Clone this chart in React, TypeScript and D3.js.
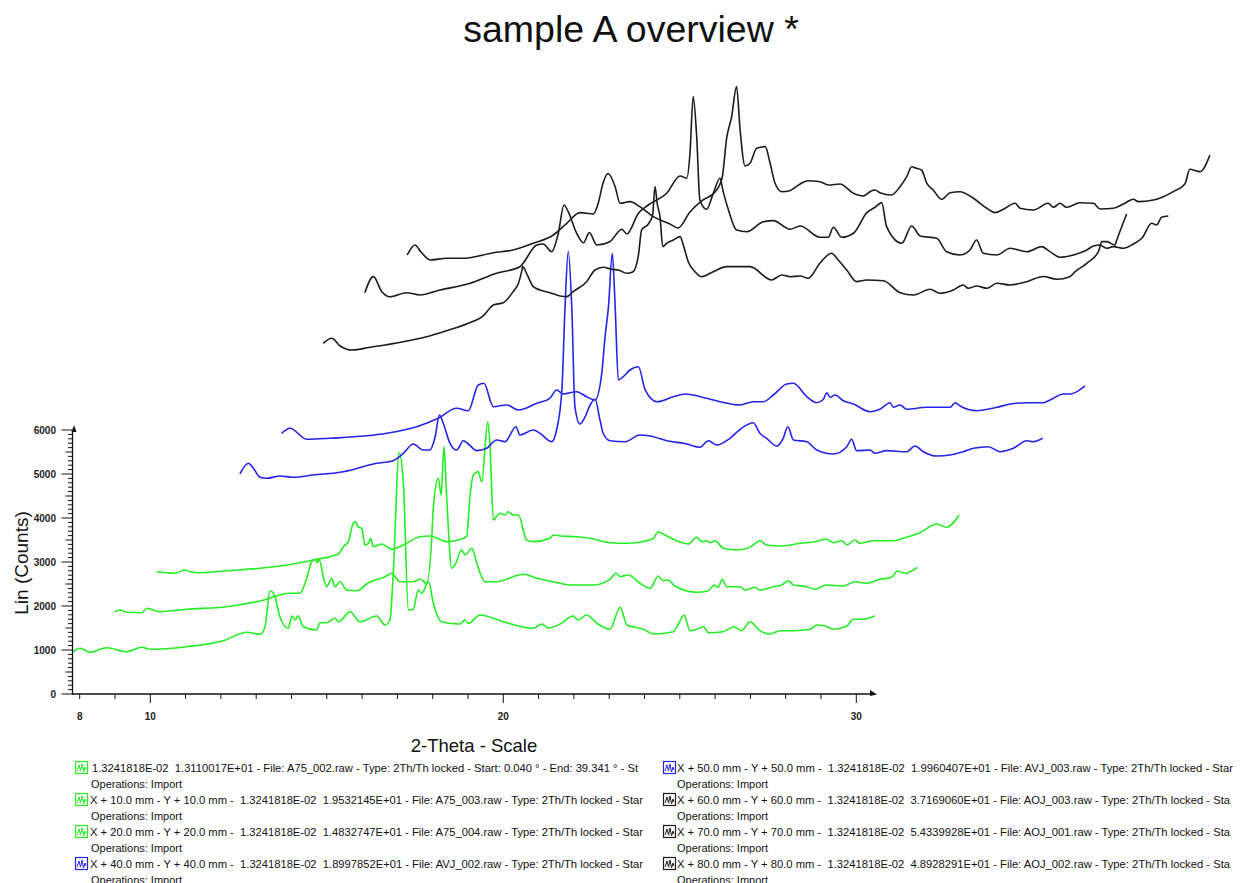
import React from 'react';
import * as d3 from 'd3';

type Pt = [number, number];

// 2-Theta (deg), Lin (Counts)
const scanA75_002: Pt[] = [[7.79,948],[8.01,1039],[8.29,948],[8.76,1052],[9.33,961],[9.76,1061],[9.99,1016],[11.03,1075],[12.07,1211],[12.73,1402],[13.11,1357],[13.25,1530],[13.39,2348],[13.53,2212],[13.67,1757],[13.91,1493],[14.01,1773],[14.10,1682],[14.19,1773],[14.33,1530],[14.71,1455],[14.81,1621],[15.00,1621],[15.23,1721],[15.33,1643],[15.66,1871],[15.94,1643],[16.41,1773],[16.65,1568],[16.79,1682],[16.88,2705],[17.05,5485],[17.17,4789],[17.31,1909],[17.45,1925],[17.59,2364],[17.69,2289],[17.88,2553],[18.02,2062],[18.25,1643],[18.77,1591],[18.91,1682],[19.01,1607],[19.34,1796],[20.00,1643],[20.85,1493],[21.09,1591],[21.27,1500],[21.61,1591],[21.98,1773],[22.12,1682],[22.36,1796],[22.65,1607],[23.02,1471],[23.31,1971],[23.50,1568],[23.97,1471],[24.25,1364],[24.82,1416],[24.96,1591],[25.12,1796],[25.29,1439],[25.48,1471],[25.67,1530],[25.81,1393],[26.23,1416],[26.52,1530],[26.75,1439],[26.99,1643],[27.27,1439],[27.56,1364],[27.84,1439],[28.22,1439],[28.69,1471],[28.88,1568],[29.12,1546],[29.35,1471],[29.73,1546],[29.92,1698],[30.15,1698],[30.53,1773]];

const scanA75_003: Pt[] = [[7.79,916],[7.95,955],[8.14,902],[8.57,893],[8.71,993],[9.08,916],[9.84,971],[10.97,1030],[11.92,1159],[12.77,1334],[13.05,1334],[13.24,1675],[13.38,2053],[13.48,2107],[13.54,2030],[13.60,2091],[13.71,1712],[13.81,1484],[13.95,1675],[14.04,1484],[14.18,1598],[14.37,1409],[14.66,1393],[14.99,1575],[15.46,1712],[15.65,1789],[15.88,1598],[16.26,1598],[16.45,1652],[16.64,1562],[16.78,2546],[16.83,3303],[16.97,3948],[17.05,3569],[17.13,4667],[17.21,3455],[17.35,1902],[17.44,1978],[17.63,2318],[17.73,2205],[17.92,2357],[18.06,2016],[18.29,1598],[18.62,1598],[19.38,1766],[19.76,1675],[20.42,1562],[20.70,1523],[21.36,1523],[21.83,1652],[22.00,1789],[22.12,1712],[22.35,1750],[22.68,1562],[22.97,1448],[23.20,1727],[23.34,1621],[23.48,1637],[23.67,1500],[24.29,1357],[24.62,1393],[24.78,1523],[24.90,1471],[25.01,1652],[25.14,1484],[25.52,1484],[25.66,1409],[25.94,1471],[26.08,1409],[26.46,1484],[26.70,1523],[26.88,1621],[27.03,1523],[27.41,1484],[27.64,1425],[27.97,1523],[28.44,1500],[28.77,1598],[29.10,1562],[29.48,1652],[29.81,1698],[29.97,1841],[30.19,1789],[30.54,1925]];

const scanA75_004: Pt[] = [[7.80,871],[8.08,848],[8.32,834],[8.60,909],[8.75,871],[9.03,848],[9.78,893],[10.73,948],[11.67,1046],[12.24,1137],[12.95,1273],[13.09,1439],[13.23,1553],[13.37,1971],[13.44,2007],[13.50,1893],[13.61,1857],[13.70,1477],[13.80,1516],[13.86,1630],[13.94,1439],[14.18,1500],[14.46,1380],[14.79,1477],[15.26,1666],[15.54,1682],[16.02,1553],[16.35,1591],[16.58,1666],[16.68,2614],[16.77,3069],[16.91,3144],[17.01,2916],[17.18,4280],[17.24,3789],[17.34,2046],[17.43,2121],[17.53,2198],[17.67,2159],[17.76,2234],[17.90,2159],[18.05,2159],[18.28,1591],[18.47,1553],[18.94,1630],[19.04,1705],[19.23,1682],[19.70,1666],[20.08,1630],[20.64,1530],[21.12,1516],[21.68,1575],[21.87,1630],[22.01,1780],[22.20,1705],[22.53,1575],[22.86,1500],[23.10,1652],[23.24,1553],[23.38,1575],[23.48,1530],[23.62,1575],[23.85,1402],[24.23,1364],[24.52,1402],[24.66,1455],[24.89,1575],[25.08,1477],[25.46,1455],[26.03,1516],[26.45,1553],[26.78,1607],[26.97,1530],[27.21,1575],[27.35,1477],[27.58,1591],[27.72,1516],[28.10,1575],[28.67,1575],[28.95,1630],[29.42,1757],[29.90,1955],[30.18,1880],[30.53,2159]];

const scanAVJ_002: Pt[] = [[7.78,1182],[8.02,1425],[8.16,1312],[8.35,1107],[8.54,1084],[8.92,1137],[9.29,1107],[9.86,1159],[10.71,1234],[11.65,1425],[12.12,1484],[12.41,1652],[12.69,1864],[12.97,1727],[13.16,1727],[13.31,2030],[13.43,2523],[13.54,2334],[13.73,1880],[13.92,1727],[14.11,1939],[14.25,1864],[14.49,1712],[14.77,1766],[15.05,1955],[15.29,1916],[15.60,2257],[15.71,2068],[16.09,2182],[16.28,2107],[16.61,1916],[16.75,2182],[16.90,3091],[16.99,4985],[17.08,6235],[17.18,4985],[17.27,2712],[17.41,2318],[17.56,2484],[17.70,2750],[17.84,2880],[17.98,2409],[18.07,2107],[18.26,1939],[18.69,1916],[19.11,2068],[19.40,2046],[19.87,1939],[20.44,1864],[20.81,1789],[21.05,1939],[21.29,1841],[21.66,1993],[21.95,2198],[22.32,2348],[22.51,2107],[22.70,1993],[22.99,1818],[23.17,1993],[23.30,2257],[23.46,1955],[23.84,1916],[24.12,1727],[24.59,1637],[24.97,1802],[25.11,1971],[25.25,1712],[25.63,1727],[25.77,1652],[26.10,1712],[26.67,1689],[26.90,1818],[27.14,1689],[27.52,1591],[27.90,1614],[28.27,1689],[28.56,1766],[28.98,1802],[29.31,1689],[29.69,1766],[30.07,1939],[30.26,1916],[30.52,1993]];

const scanAVJ_003: Pt[] = [[7.77,1152],[8.01,1266],[8.48,1016],[9.14,1039],[10.75,1152],[11.60,1302],[12.21,1493],[12.73,1721],[13.06,1666],[13.34,2250],[13.50,2289],[13.77,1757],[14.15,1796],[14.48,1682],[15.00,1834],[15.37,1948],[15.56,2137],[15.75,2046],[16.13,2098],[16.41,1984],[16.65,1909],[16.84,2516],[16.93,3312],[17.03,4030],[17.14,5244],[17.22,4030],[17.31,2364],[17.45,2439],[17.64,2591],[17.88,2666],[18.07,2137],[18.40,1871],[18.87,1984],[19.20,2046],[19.43,2023],[19.81,1948],[20.19,1871],[20.76,1796],[21.13,1871],[21.42,1871],[21.70,2023],[22.08,2273],[22.27,2289],[22.65,1984],[22.93,1848],[23.12,1925],[23.21,2075],[23.31,1971],[23.45,2023],[23.68,1893],[23.97,1818],[24.44,1643],[24.72,1698],[25.01,1848],[25.10,1743],[25.29,1796],[25.48,1698],[26.05,1743],[26.71,1743],[26.85,1848],[26.99,1773],[27.46,1666],[28.03,1743],[28.41,1818],[28.88,1848],[29.35,1848],[29.54,1909],[29.92,2046],[30.11,2046],[30.35,2121],[30.53,2228]];

const scanAOJ_003: Pt[] = [[7.76,2243],[8.00,2357],[8.24,2182],[8.57,2091],[9.08,2153],[10.03,2280],[10.69,2393],[11.26,2530],[11.82,2682],[12.29,2864],[12.58,3114],[12.86,3166],[13.14,3416],[13.29,3607],[13.38,3871],[13.41,3985],[13.52,3834],[13.71,3530],[13.90,3455],[14.18,3394],[14.47,3319],[14.66,3303],[14.84,3416],[15.22,3644],[15.46,3910],[15.69,3971],[15.93,3925],[16.12,3910],[16.36,3834],[16.54,3871],[16.69,4251],[16.78,4819],[16.97,4955],[17.09,5160],[17.16,5803],[17.22,5426],[17.30,5121],[17.38,4439],[17.49,4517],[17.68,4591],[17.87,4667],[17.96,4478],[18.10,4098],[18.29,3871],[18.48,3757],[18.81,3871],[19.19,3985],[19.57,3985],[19.85,3985],[20.46,3682],[20.75,3796],[20.98,3757],[21.27,3773],[21.50,3721],[21.83,4062],[22.16,4289],[22.35,4137],[22.59,3910],[22.87,3644],[23.16,3682],[23.63,3666],[24.10,3394],[24.48,3341],[24.95,3471],[25.23,3380],[25.61,3455],[25.89,3569],[26.03,3494],[26.27,3546],[26.56,3494],[26.84,3607],[27.22,3569],[27.69,3644],[28.16,3762],[28.54,3698],[28.91,3757],[29.06,3871],[29.39,4062],[29.72,4326],[29.82,4553],[29.96,4553],[30.19,4478],[30.24,4591],[30.52,5182]];

const scanAOJ_001: Pt[] = [[7.75,2439],[7.99,2803],[8.23,2462],[8.46,2348],[8.93,2439],[9.31,2387],[9.88,2500],[10.73,2653],[11.48,2880],[12.14,3030],[12.62,3523],[12.80,3546],[13.04,3371],[13.23,3789],[13.39,4432],[13.51,4280],[13.75,3789],[13.94,3575],[14.11,3803],[14.32,3523],[14.69,3598],[15.03,3880],[15.17,3773],[15.50,4244],[15.78,4432],[16.30,4698],[16.68,5092],[16.87,5039],[16.96,5607],[17.05,6894],[17.15,5985],[17.24,4546],[17.43,4335],[17.62,4698],[17.81,5039],[17.90,4735],[18.05,4319],[18.28,3864],[18.57,3825],[19.04,4053],[19.32,4076],[19.79,3880],[20.08,3955],[20.64,3698],[20.88,3698],[21.02,3925],[21.26,3698],[21.59,3789],[21.97,4257],[22.20,4380],[22.39,4485],[22.53,3939],[22.96,3562],[23.24,3955],[23.48,3728],[23.95,3675],[24.23,3371],[24.61,3296],[24.89,3410],[25.08,3637],[25.27,3334],[25.65,3296],[26.03,3448],[26.50,3371],[26.92,3485],[27.16,3371],[27.44,3244],[27.82,3296],[28.20,3410],[28.39,3500],[28.57,3523],[28.76,3448],[28.95,3485],[29.24,3448],[29.52,3546],[29.76,3675],[30.04,4016],[30.18,3978],[30.32,4153],[30.51,4182]];

const scanAOJ_002: Pt[] = [[7.76,2341],[7.98,2568],[8.15,2409],[8.41,2228],[8.88,2266],[9.35,2266],[10.20,2393],[10.76,2455],[11.33,2607],[11.90,2796],[12.28,3062],[12.65,3303],[13.03,3273],[13.17,3516],[13.31,3985],[13.45,4194],[13.65,3894],[13.79,3516],[14.07,3553],[14.35,3439],[14.73,3212],[15.20,3046],[15.43,2955],[15.77,3319],[16.14,3591],[16.48,3773],[16.68,4091],[16.81,5001],[16.95,5485],[17.09,6167],[17.19,5182],[17.33,4364],[17.47,4426],[17.66,4767],[17.90,4803],[18.04,4426],[18.18,3971],[18.37,3780],[18.60,3803],[18.89,3955],[19.12,4030],[19.45,4007],[19.69,3932],[20.02,3955],[20.40,3744],[20.68,3682],[20.87,3780],[21.01,3819],[21.15,3757],[21.48,3705],[21.72,3894],[21.91,4121],[22.05,4348],[22.19,4312],[22.33,4273],[22.48,3971],[22.66,3819],[22.90,3607],[23.14,3757],[23.42,3780],[23.80,3630],[24.18,3403],[24.41,3303],[24.65,3380],[24.98,3516],[25.12,3403],[25.50,3364],[25.92,3516],[26.06,3425],[26.25,3516],[26.44,3425],[26.82,3530],[27.20,3516],[27.39,3387],[27.76,3403],[28.05,3500],[28.33,3607],[28.47,3553],[28.90,3591],[29.18,3666],[29.46,3780],[29.79,3955],[29.93,4289],[30.22,4235],[30.50,4614]];

const SCANS: Pt[][] = [scanA75_002, scanA75_003, scanA75_004, scanAVJ_002, scanAVJ_003, scanAOJ_003, scanAOJ_001, scanAOJ_002];
const OFFSETS_MM = [0, 10, 20, 40, 50, 60, 70, 80];
const GREEN = '#22ee22';
const BLUE = '#2424e8';
const BLACK = '#1c1c1c';
const SCAN_COLORS = [GREEN, GREEN, GREEN, BLUE, BLUE, BLACK, BLACK, BLACK];

const Y_TICK_LABELS = [0, 1000, 2000, 3000, 4000, 5000, 6000];
const X_TICK_LABELS = [8, 10, 20, 30];

const LEGEND_TEXT = [
  '1.3241818E-02  1.3110017E+01 - File: A75_002.raw - Type: 2Th/Th locked - Start: 0.040 ° - End: 39.341 ° - St',
  'X + 10.0 mm - Y + 10.0 mm -  1.3241818E-02  1.9532145E+01 - File: A75_003.raw - Type: 2Th/Th locked - Star',
  'X + 20.0 mm - Y + 20.0 mm -  1.3241818E-02  1.4832747E+01 - File: A75_004.raw - Type: 2Th/Th locked - Star',
  'X + 40.0 mm - Y + 40.0 mm -  1.3241818E-02  1.8997852E+01 - File: AVJ_002.raw - Type: 2Th/Th locked - Star',
  'X + 50.0 mm - Y + 50.0 mm -  1.3241818E-02  1.9960407E+01 - File: AVJ_003.raw - Type: 2Th/Th locked - Star',
  'X + 60.0 mm - Y + 60.0 mm -  1.3241818E-02  3.7169060E+01 - File: AOJ_003.raw - Type: 2Th/Th locked - Sta',
  'X + 70.0 mm - Y + 70.0 mm -  1.3241818E-02  5.4339928E+01 - File: AOJ_001.raw - Type: 2Th/Th locked - Sta',
  'X + 80.0 mm - Y + 80.0 mm -  1.3241818E-02  4.8928291E+01 - File: AOJ_002.raw - Type: 2Th/Th locked - Sta',
];
const LEGEND_SUB = 'Operations: Import';

const FONT = "'Liberation Sans', Arial, Helvetica, sans-serif";

export default function App() {
  const W = 1245, H = 883;
  const x = d3.scaleLinear().domain([8, 30]).range([79.7, 856.3]);
  const y = d3.scaleLinear().domain([0, 6000]).range([694, 430]);
  const mmPx = 4.2;
  const axisX0 = 72.5, axisY0 = 694;
  const xEnd = 877, yTop = 426;

  const line = d3.line<Pt>().x(d => x(d[0])).y(d => y(d[1])).curve(d3.curveMonotoneX);

  const xMinor = d3.range(8, 31, 1);
  const yMinor = d3.range(0, 6001, 100);

  const legendTextLen = [546, 553, 553, 553, 556, 553, 553, 553];

  return (
    <svg width={W} height={H} style={{ position: 'absolute', left: 0, top: 0, background: '#fff' }} fontFamily={FONT}>
      <rect x={0} y={0} width={W} height={H} fill="#fff" />
      <text x={631} y={42} textAnchor="middle" fontSize={37.5} fill="#111">sample A overview *</text>

      {/* scans */}
      <g fill="none" strokeWidth={1.6} strokeLinejoin="round">
        {SCANS.map((s, i) => (
          <path key={i} d={line(s) || ''} stroke={SCAN_COLORS[i]}
            transform={`translate(${OFFSETS_MM[i] * mmPx},${-OFFSETS_MM[i] * mmPx})`} />
        ))}
      </g>

      {/* y axis */}
      <g stroke="#111" strokeWidth={1.3}>
        <line x1={axisX0} x2={axisX0} y1={axisY0 + 1} y2={yTop + 4} />
        {yMinor.map(v => {
          const len = v % 1000 === 0 ? 11 : v % 500 === 0 ? 7 : 4.5;
          return <line key={v} x1={axisX0 - len} x2={axisX0} y1={y(v)} y2={y(v)} strokeWidth={1} />;
        })}
      </g>
      <path d={`M${axisX0 - 1},${yTop + 6} L${axisX0 + 1.5},${yTop - 1} L${axisX0 + 4},${yTop + 6} Z`} fill="#111" />
      {Y_TICK_LABELS.map(v => (
        <text key={v} x={56} y={y(v) + 3.5} textAnchor="end" fontSize={10} fontWeight="bold" fill="#222">{v}</text>
      ))}
      <text transform={`translate(28,563) rotate(-90)`} textAnchor="middle" fontSize={19} fill="#111">Lin (Counts)</text>

      {/* x axis */}
      <g stroke="#111" strokeWidth={1.3}>
        <line x1={axisX0} x2={xEnd - 4} y1={axisY0} y2={axisY0} />
        {xMinor.map(v => {
          const len = v % 10 === 0 ? 9 : 5;
          return <line key={v} x1={x(v)} x2={x(v)} y1={axisY0} y2={axisY0 + len} strokeWidth={1} />;
        })}
      </g>
      <path d={`M${xEnd - 7},${axisY0 - 4} L${xEnd},${axisY0 + 0.5} L${xEnd - 7},${axisY0 + 2} Z`} fill="#111" />
      {X_TICK_LABELS.map(v => (
        <text key={v} x={x(v)} y={720} textAnchor="middle" fontSize={10} fontWeight="bold" fill="#222">{v}</text>
      ))}
      <text x={474} y={752} textAnchor="middle" fontSize={18.5} fill="#111">2-Theta - Scale</text>

      {/* legend */}
      {LEGEND_TEXT.map((t, i) => {
        const col = i < 4 ? 0 : 1;
        const row = i % 4;
        const cy = 768 + row * 32;
        const ix = col === 0 ? 75 : 663;
        const tx = col === 0 ? (i === 0 ? 92 : 90) : 677;
        const c = SCAN_COLORS[i];
        return (
          <g key={i}>
            <rect x={ix + 0.5} y={cy - 6.5} width={12} height={12} fill="#fff" stroke={c} strokeWidth={1.2} />
            <polyline points={`${ix + 2},${cy + 3} ${ix + 4},${cy - 3} ${ix + 5.5},${cy + 3} ${ix + 7},${cy - 4} ${ix + 8.5},${cy + 4} ${ix + 10},${cy - 1} ${ix + 11},${cy + 2}`}
              fill="none" stroke={c} strokeWidth={1} />
            <text x={tx} y={cy + 4} fontSize={11} fill="#111" style={{ whiteSpace: 'pre' }}
              textLength={legendTextLen[i]} lengthAdjust="spacingAndGlyphs">{t}</text>
            <text x={col === 0 ? 91 : 677} y={cy + 19.5} fontSize={11} fill="#111"
              textLength={91} lengthAdjust="spacingAndGlyphs">{LEGEND_SUB}</text>
          </g>
        );
      })}
    </svg>
  );
}
